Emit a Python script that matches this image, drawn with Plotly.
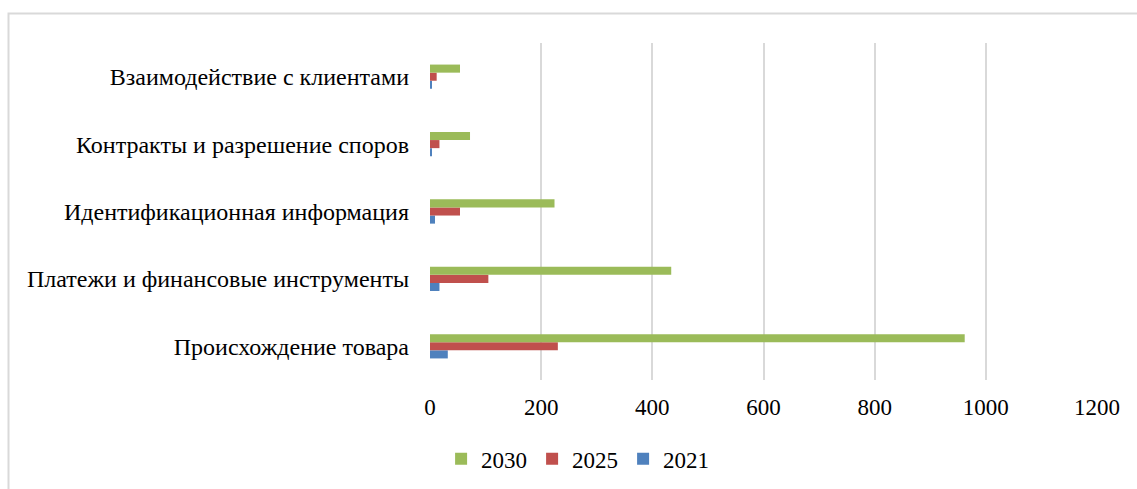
import plotly.graph_objects as go

categories = [
    "Происхождение товара",
    "Платежи и финансовые инструменты",
    "Идентификационная информация",
    "Контракты и разрешение споров",
    "Взаимодействие с клиентами",
]
values_2021 = [32, 17, 9, 2, 3]
values_2025 = [230, 105, 54, 17, 12]
values_2030 = [962, 434, 224, 72, 54]

series = [
    ("2021", values_2021, "#4F81BD"),
    ("2025", values_2025, "#C0504D"),
    ("2030", values_2030, "#9BBB59"),
]

FONT = "Liberation Serif"

fig = go.Figure()
for name, vals, color in series:
    fig.add_trace(go.Bar(
        y=categories, x=vals, name=name, orientation="h",
        marker=dict(color=color, line=dict(width=0)),
    ))

W, H = 1137, 489
ml, mr, mt, mb = 430, 40, 43, 109
pw, ph = W - ml - mr, H - mt - mb

def px_x(p):
    return (p - ml) / pw

def px_y(p):
    return (H - mb - p) / ph

fig.update_layout(
    width=W, height=H,
    margin=dict(l=ml, r=mr, t=mt, b=mb),
    paper_bgcolor="white", plot_bgcolor="white",
    barmode="group", bargap=0.64, bargroupgap=0,
    font=dict(family=FONT, size=24, color="#000000"),
    xaxis=dict(
        range=[0, 1200], dtick=200, showgrid=True, gridcolor="#d9d9d9",
        gridwidth=2, zeroline=False, showline=False, ticks="",
        ticklabelstandoff=11, tickfont=dict(family=FONT, size=23),
    ),
    yaxis=dict(
        showgrid=False, showline=False, ticks="", ticklabelstandoff=20,
        tickfont=dict(family=FONT, size=24),
    ),
    legend=dict(
        orientation="h", traceorder="reversed",
        xref="container", yref="container",
        x=0.508, xanchor="center", y=0.062, yanchor="middle",
        font=dict(family=FONT, size=23), itemwidth=30,
    ),
    shapes=[dict(
        type="rect", xref="paper", yref="paper",
        x0=px_x(8.5), x1=px_x(1145), y0=px_y(495), y1=px_y(13.5),
        line=dict(color="#d9d9d9", width=2), fillcolor="rgba(0,0,0,0)",
        layer="below",
    )],
)

fig.write_html("out.html")
